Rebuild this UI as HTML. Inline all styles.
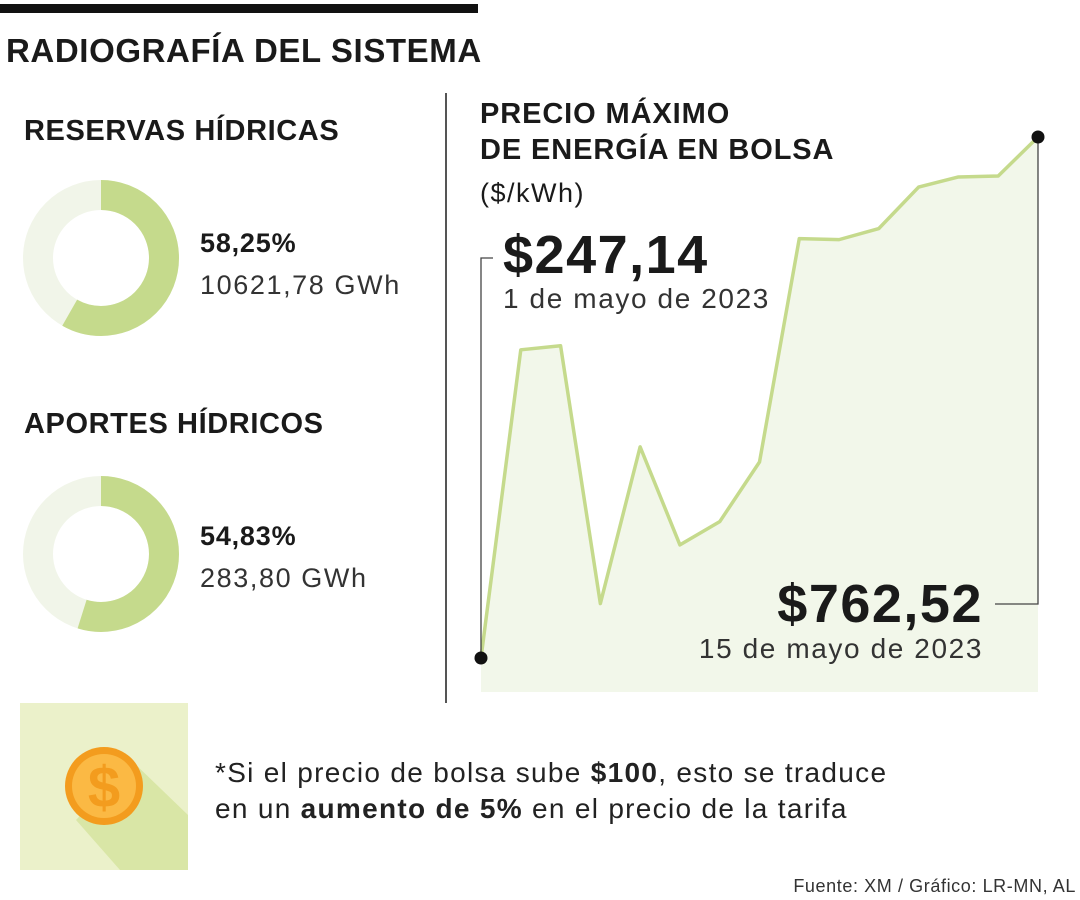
<!DOCTYPE html>
<html><head><meta charset="utf-8">
<style>
body{margin:0;width:1080px;height:900px;background:#fff;position:relative;overflow:hidden;font-family:"Liberation Sans","DejaVu Sans",sans-serif;color:#1a1a1a}
.a{position:absolute;white-space:nowrap}
.h{font-weight:bold;letter-spacing:0.3px}
</style></head><body>
<div class="a" style="left:0;top:4px;width:478px;height:9px;background:#111"></div>
<div class="a h" style="left:6px;top:32px;font-size:33px;letter-spacing:0.6px">RADIOGRAFÍA DEL SISTEMA</div>
<div class="a" style="left:445px;top:93px;width:2px;height:610px;background:#555"></div>

<div class="a h" style="left:24px;top:115px;font-size:29px;letter-spacing:0.6px">RESERVAS HÍDRICAS</div>
<svg class="a" style="left:20px;top:177px" width="162" height="162" viewBox="0 0 162 162">
<circle cx="81" cy="81" r="63" fill="none" stroke="#f1f5e9" stroke-width="30"/>
<circle id="d1" cx="81" cy="81" r="63" fill="none" stroke="#c5da8c" stroke-width="30" transform="rotate(-90 81 81)"/>
</svg>
<div class="a" style="left:200px;top:228px;font-size:27px;font-weight:bold;letter-spacing:0.8px">58,25%</div>
<div class="a" style="left:200px;top:270px;font-size:27px;color:#333;letter-spacing:1.6px">10621,78 GWh</div>

<div class="a h" style="left:24px;top:408px;font-size:29px;letter-spacing:0.6px">APORTES HÍDRICOS</div>
<svg class="a" style="left:20px;top:473px" width="162" height="162" viewBox="0 0 162 162">
<circle cx="81" cy="81" r="63" fill="none" stroke="#f1f5e9" stroke-width="30"/>
<circle id="d2" cx="81" cy="81" r="63" fill="none" stroke="#c5da8c" stroke-width="30" transform="rotate(-90 81 81)"/>
</svg>
<div class="a" style="left:200px;top:521px;font-size:27px;font-weight:bold;letter-spacing:0.8px">54,83%</div>
<div class="a" style="left:200px;top:563px;font-size:27px;color:#333;letter-spacing:1.6px">283,80 GWh</div>

<div class="a h" style="left:480px;top:96px;font-size:29px;line-height:36px;letter-spacing:0.9px">PRECIO MÁXIMO<br>DE ENERGÍA EN BOLSA</div>
<div class="a" style="left:480px;top:178px;font-size:27px;letter-spacing:1.5px">($/kWh)</div>

<svg class="a" style="left:0;top:0" width="1080" height="900">
<path id="area" fill="#f2f7ea"/>
<polyline id="line" fill="none" stroke="#c5da8c" stroke-width="3.5" stroke-linejoin="round"/>
<polyline points="481,658 481,258 493,258" fill="none" stroke="#444" stroke-width="1.3"/>
<polyline points="995,604 1038,604 1038,137" fill="none" stroke="#444" stroke-width="1.3"/>
<circle id="p0" r="6.5" fill="#111"/>
<circle id="p1" r="6.5" fill="#111"/>
</svg>
<div class="a" style="left:503px;top:224px;font-size:54px;font-weight:bold;letter-spacing:1.5px">$247,14</div>
<div class="a" style="left:503px;top:283px;font-size:28px;color:#333;letter-spacing:1.6px">1 de mayo de 2023</div>
<div class="a" style="right:97px;top:573px;font-size:54px;font-weight:bold;letter-spacing:1.5px">$762,52</div>
<div class="a" style="right:97px;top:633px;font-size:28px;color:#333;letter-spacing:1.6px">15 de mayo de 2023</div>

<svg class="a" style="left:20px;top:703px" width="168" height="167">
<rect width="168" height="167" fill="#ebf1ca"/>
<polygon points="112,58 168,112 168,167 100,167 56,117" fill="#d9e6a6"/>
<circle cx="84" cy="83" r="39" fill="#f39c1e"/>
<circle cx="84" cy="83" r="32" fill="#fbb944"/>
<text x="84" y="104" text-anchor="middle" font-size="58" font-weight="bold" fill="#f39c1e" font-family="Liberation Sans">$</text>
</svg>
<div class="a" style="left:215px;top:755px;font-size:28px;line-height:36px;color:#222;letter-spacing:1.3px">*Si el precio de bolsa sube <b>$100</b>, esto se traduce<br>en un <b>aumento de 5%</b> en el precio de la tarifa</div>
<div class="a" style="right:4px;top:876px;font-size:18px;color:#333;letter-spacing:0.6px">Fuente: XM / Gráfico: LR-MN, AL</div>

<script>
const days=[1,2,3,4,5,6,7,8,9,10,11,12,13,14,15];
const prices=[247.14,552,556,301,456,359,382,441,662,661,672,713,723,724,762.52];
const donutPcts=[58.25,54.83];
const x=d=>481+(d-1)*(1038-481)/14;
const y=v=>658-(v-247.14)*(658-137)/(762.52-247.14);
const pts=days.map((d,i)=>x(d)+','+y(prices[i]));
document.getElementById('line').setAttribute('points',pts.join(' '));
document.getElementById('area').setAttribute('d','M'+x(1)+',692 L'+pts.join(' L')+' L'+x(15)+',692 Z');
const p0=document.getElementById('p0');p0.setAttribute('cx',x(1));p0.setAttribute('cy',y(prices[0]));
const p1=document.getElementById('p1');p1.setAttribute('cx',x(15));p1.setAttribute('cy',y(prices[14]));
const C=2*Math.PI*63;
['d1','d2'].forEach((id,i)=>{const c=document.getElementById(id);
c.setAttribute('stroke-dasharray',(C*donutPcts[i]/100)+' '+C);});
</script>
</body></html>
